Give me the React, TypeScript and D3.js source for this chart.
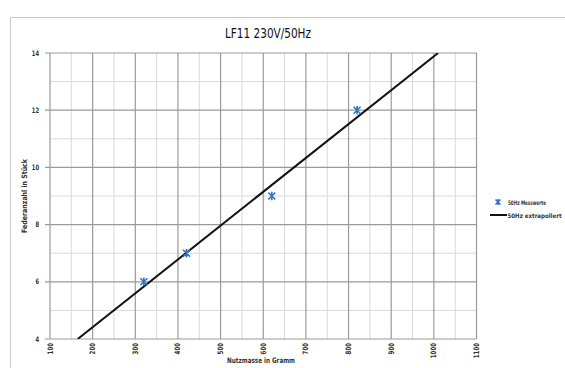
import React, { useEffect, useRef } from 'react';
import * as d3 from 'd3';

const xTicks = [100, 200, 300, 400, 500, 600, 700, 800, 900, 1000, 1100];
const yTicks = [4, 6, 8, 10, 12, 14];
const measuredMass = [320, 420, 620, 820];
const measuredCount = [6, 7, 9, 12];
const lineMass = [165, 1010];
const lineCount = [4, 14];

const FONT = "'DejaVu Sans Condensed', 'Liberation Sans', sans-serif";
const BLUE = '#2e75c0';

const App = () => {
  const svgRef = useRef<SVGSVGElement>(null);

  useEffect(() => {
    const svg = d3.select(svgRef.current);
    svg.selectAll('*').remove();

    const width = 565;
    const height = 368;
    const margin = { left: 50, top: 53, right: 88.5, bottom: 29 };

    const x = d3.scaleLinear().domain([100, 1100]).range([margin.left, width - margin.right]);
    const y = d3.scaleLinear().domain([4, 14]).range([height - margin.bottom, margin.top]);

    // outer frame
    svg.append('rect')
      .attr('x', 10.5).attr('y', 17.5)
      .attr('width', 560).attr('height', 400)
      .attr('fill', 'white')
      .attr('stroke', '#c8c8c8');

    const defs = svg.append('defs');
    defs.append('clipPath').attr('id', 'plot-clip')
      .append('rect')
      .attr('x', x(100)).attr('y', y(14))
      .attr('width', x(1100) - x(100)).attr('height', y(4) - y(14));

    const grid = svg.append('g');
    const minorX = d3.range(150, 1100, 100);
    const minorY = d3.range(5, 14, 2);

    grid.selectAll('.mx').data(minorX).enter().append('line')
      .attr('x1', d => x(d)).attr('x2', d => x(d))
      .attr('y1', y(4)).attr('y2', y(14))
      .attr('stroke', '#d9d9d9').attr('stroke-width', 1);
    grid.selectAll('.my').data(minorY).enter().append('line')
      .attr('y1', d => y(d)).attr('y2', d => y(d))
      .attr('x1', x(100)).attr('x2', x(1100))
      .attr('stroke', '#d9d9d9').attr('stroke-width', 1);
    grid.selectAll('.Mx').data(xTicks).enter().append('line')
      .attr('x1', d => x(d)).attr('x2', d => x(d))
      .attr('y1', y(4)).attr('y2', y(14))
      .attr('stroke', '#9a9a9a').attr('stroke-width', 1.2);
    grid.selectAll('.My').data(yTicks).enter().append('line')
      .attr('y1', d => y(d)).attr('y2', d => y(d))
      .attr('x1', x(100) - 5).attr('x2', x(1100))
      .attr('stroke', '#9a9a9a').attr('stroke-width', 1.2);

    // y tick labels
    svg.selectAll('.yl').data(yTicks).enter().append('text')
      .attr('x', 39).attr('y', d => y(d) + 2.5)
      .attr('text-anchor', 'end')
      .attr('textLength', d => String(d).length * 3.6)
      .attr('lengthAdjust', 'spacingAndGlyphs')
      .style('font-family', FONT).style('font-size', '7.5px').style('font-weight', 'bold')
      .attr('fill', '#333')
      .text(d => d);

    // x tick labels (rotated)
    svg.selectAll('.xl').data(xTicks).enter().append('text')
      .attr('transform', d => `translate(${x(d) + 2.5},${y(4) + 4}) rotate(-90)`)
      .attr('text-anchor', 'end')
      .attr('textLength', d => String(d).length * 3.8)
      .attr('lengthAdjust', 'spacingAndGlyphs')
      .style('font-family', FONT).style('font-size', '7.5px').style('font-weight', 'bold')
      .attr('fill', '#333')
      .text(d => d);

    // regression line
    const lineData = lineMass.map((m, i) => [m, lineCount[i]] as [number, number]);
    svg.append('path')
      .datum(lineData)
      .attr('clip-path', 'url(#plot-clip)')
      .attr('d', d3.line<[number, number]>().x(d => x(d[0])).y(d => y(d[1])))
      .attr('fill', 'none')
      .attr('stroke', '#111')
      .attr('stroke-width', 2);

    // measured markers
    const star = (s: number) =>
      `M${-s},${-s}L${s},${s}M${-s},${s}L${s},${-s}M0,${-s * 1.2}L0,${s * 1.2}`;
    svg.selectAll('.pt').data(measuredMass).enter().append('path')
      .attr('transform', (d, i) => `translate(${x(d)},${y(measuredCount[i])})`)
      .attr('d', star(3.5))
      .attr('stroke', BLUE).attr('stroke-width', 1.6).attr('fill', 'none');

    // title
    svg.append('text')
      .attr('x', 268).attr('y', 38)
      .attr('text-anchor', 'middle')
      .attr('textLength', 86)
      .attr('lengthAdjust', 'spacingAndGlyphs')
      .style('font-family', FONT).style('font-size', '13.5px')
      .attr('fill', '#111')
      .text('LF11 230V/50Hz');

    // axis titles
    svg.append('text')
      .attr('x', 261).attr('y', 363)
      .attr('text-anchor', 'middle')
      .attr('textLength', 68)
      .attr('lengthAdjust', 'spacingAndGlyphs')
      .style('font-family', FONT).style('font-size', '7.5px').style('font-weight', 'bold')
      .attr('fill', '#333')
      .text('Nutzmasse in Gramm');
    svg.append('text')
      .attr('transform', `translate(27,${(y(4) + y(14)) / 2}) rotate(-90)`)
      .attr('text-anchor', 'middle')
      .attr('textLength', 74)
      .attr('lengthAdjust', 'spacingAndGlyphs')
      .style('font-family', FONT).style('font-size', '7.5px').style('font-weight', 'bold')
      .attr('fill', '#333')
      .text('Federanzahl in Stück');

    // legend
    const lg = svg.append('g');
    lg.append('path')
      .attr('transform', 'translate(498,202)')
      .attr('d', star(2.5))
      .attr('stroke', BLUE).attr('stroke-width', 1.5).attr('fill', 'none');
    lg.append('text')
      .attr('x', 508).attr('y', 204.5)
      .attr('textLength', 38)
      .attr('lengthAdjust', 'spacingAndGlyphs')
      .style('font-family', FONT).style('font-size', '6.2px').style('font-weight', 'bold')
      .attr('fill', '#333')
      .text('50Hz Messwerte');
    lg.append('line')
      .attr('x1', 490).attr('x2', 507).attr('y1', 215).attr('y2', 215)
      .attr('stroke', '#111').attr('stroke-width', 2);
    lg.append('text')
      .attr('x', 507.5).attr('y', 217.5)
      .attr('textLength', 54)
      .attr('lengthAdjust', 'spacingAndGlyphs')
      .style('font-family', FONT).style('font-size', '6.2px').style('font-weight', 'bold')
      .attr('fill', '#333')
      .text('50Hz extrapoliert');
  }, []);

  return (
    <svg
      ref={svgRef}
      width={565}
      height={368}
      style={{ position: 'absolute', left: 0, top: 0, background: 'white' }}
    />
  );
};

export default App;
